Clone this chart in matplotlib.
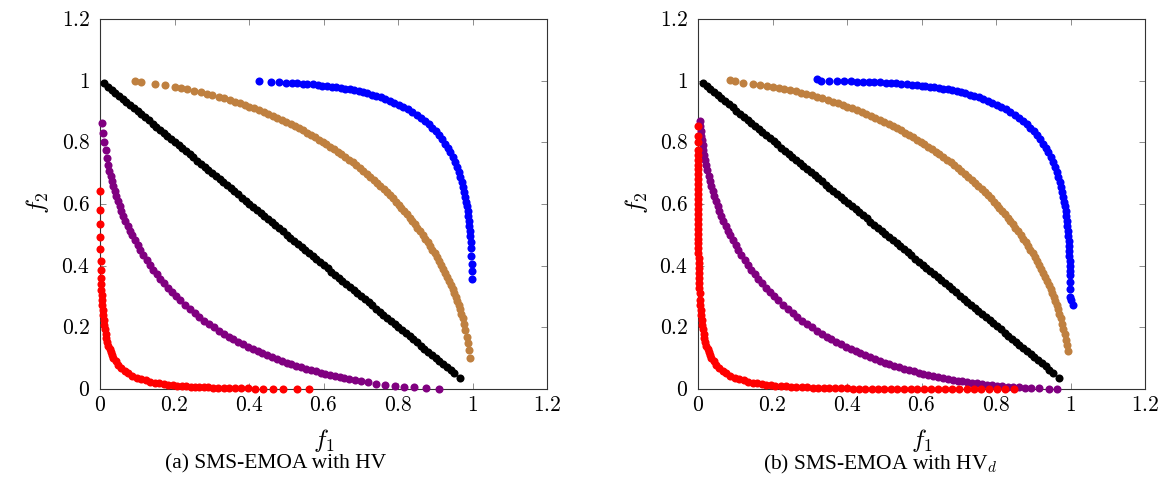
import matplotlib
matplotlib.use("Agg")
import matplotlib.pyplot as plt

plt.rcParams['font.family'] = ['Liberation Serif', 'DejaVu Serif']
plt.rcParams['mathtext.fontset'] = 'cm'

# ---------------- data: (f1, f2) points ----------------
ticks = [0, 0.2, 0.4, 0.6, 0.8, 1.0, 1.2]
tick_labels = ['$0$', '$0.2$', '$0.4$', '$0.6$', '$0.8$', '$1$', '$1.2$']
captions = ['(a) SMS-EMOA with HV', '(b) SMS-EMOA with HV$_d$']

colors = {'blue': '#0000FF', 'brown': '#BF8040', 'black': '#000000',
          'purple': '#800080', 'red': '#FF0000'}

# blue front
blue_mid = [(0.610,0.9825),(0.622,0.9807),(0.634,0.9786),(0.646,0.9764),(0.658,0.9740),
            (0.670,0.9714),(0.682,0.9686),(0.694,0.9655),(0.706,0.9622),(0.718,0.9585),
            (0.730,0.9546),(0.742,0.9503),(0.754,0.9457),(0.766,0.9406),(0.778,0.9351),
            (0.790,0.9291),(0.802,0.9225),(0.814,0.9154),(0.826,0.9075),(0.838,0.8989),
            (0.850,0.8893),(0.861,0.8797),(0.872,0.8691),(0.882,0.8584),(0.892,0.8468),
            (0.901,0.8352),(0.910,0.8223),(0.918,0.8097),(0.926,0.7958),(0.933,0.7823),
            (0.940,0.7674),(0.9465,0.752),(0.9525,0.736),(0.9579,0.720),(0.9627,0.704),
            (0.9671,0.688),(0.9710,0.672),(0.9744,0.656),(0.9775,0.640),(0.9803,0.624),
            (0.9828,0.608),(0.9850,0.592),(0.9870,0.576),(0.9887,0.560),(0.9903,0.544),
            (0.9917,0.528),(0.9929,0.512),(0.9939,0.496)]
blue_a_start = [(0.428,0.998),(0.459,0.996),(0.481,0.995),(0.498,0.994),(0.515,0.993),
                (0.530,0.9915),(0.544,0.9903),(0.557,0.9891),(0.571,0.9876),(0.584,0.9861),
                (0.597,0.9843)]
blue_a_end = [(0.9950,0.478),(0.9960,0.456),(0.9970,0.432),(0.9978,0.406),(0.9984,0.383),
              (0.9988,0.357)]
blue_b_start = [(0.319,1.005),(0.330,1.000),(0.352,0.999),(0.372,0.999),(0.392,0.998),
                (0.410,0.998),(0.426,0.997),(0.442,0.997),(0.458,0.996),(0.473,0.995),
                (0.489,0.995),(0.504,0.9934),(0.518,0.9924),(0.532,0.9913),(0.546,0.9901),
                (0.560,0.9887),(0.574,0.9872),(0.587,0.9856),(0.600,0.9839)]
blue_b_end = [(0.9950,0.480),(0.9957,0.464),(0.9963,0.448),(0.9970,0.432),(0.9976,0.416),
              (0.998,0.400),(0.998,0.384),(0.998,0.370),(0.999,0.347),(0.999,0.323),
              (0.998,0.300),(1.001,0.290),(1.007,0.273)]

# brown front
brown_mid = [(0.349,0.9371),(0.362,0.9322),(0.375,0.9270),(0.388,0.9217),(0.401,0.9161),
             (0.414,0.9103),(0.427,0.9043),(0.440,0.8980),(0.452,0.8920),(0.464,0.8858),
             (0.476,0.8794),(0.488,0.8729),(0.500,0.8660),(0.512,0.8590),(0.523,0.8523),
             (0.534,0.8455),(0.545,0.8385),(0.556,0.8312),(0.567,0.8237),(0.578,0.8160),
             (0.588,0.8089),(0.598,0.8015),(0.608,0.7939),(0.618,0.7862),(0.628,0.7782),
             (0.638,0.7701),(0.648,0.7616),(0.658,0.7530),(0.668,0.7442),(0.678,0.7350),
             (0.688,0.7257),(0.698,0.7161),(0.707,0.707),(0.7161,0.698),(0.7257,0.688),
             (0.7350,0.678),(0.7442,0.668),(0.7530,0.658),(0.7616,0.648),(0.7701,0.638),
             (0.7782,0.628),(0.7862,0.618),(0.7939,0.608),(0.8015,0.598),(0.8089,0.588),
             (0.8160,0.578),(0.8237,0.567),(0.8312,0.556),(0.8385,0.545),(0.8455,0.534),
             (0.8523,0.523),(0.8590,0.512),(0.8660,0.500),(0.8729,0.488),(0.8794,0.476),
             (0.8858,0.464),(0.8920,0.452),(0.8980,0.440),(0.9043,0.427),(0.9103,0.414),
             (0.9161,0.401),(0.9217,0.388),(0.9270,0.375),(0.9322,0.362),(0.9371,0.349),
             (0.9419,0.336),(0.9464,0.323),(0.9507,0.310),(0.9549,0.297),(0.9588,0.284),
             (0.9626,0.271),(0.9661,0.258),(0.9698,0.244),(0.9734,0.229)]
brown_a_start = [(0.093,1.000),(0.109,0.996),(0.147,0.990),(0.175,0.985),(0.200,0.980),
                 (0.217,0.976),(0.234,0.972),(0.252,0.968),(0.270,0.963),(0.286,0.958),
                 (0.302,0.953),(0.319,0.948),(0.334,0.943)]
brown_a_end = [(0.977,0.211),(0.981,0.191),(0.984,0.170),(0.988,0.148),(0.991,0.125),
               (0.994,0.102)]
brown_b_start = [(0.086,1.003),(0.100,0.998),(0.122,0.9935),(0.147,0.990),(0.166,0.986),
                 (0.184,0.983),(0.200,0.980),(0.2165,0.976),(0.232,0.9727),(0.247,0.969),
                 (0.262,0.965),(0.2765,0.961),(0.291,0.9567),(0.305,0.9523),(0.319,0.948),
                 (0.332,0.9433)]
brown_b_end = [(0.9775,0.211),(0.981,0.194),(0.9842,0.177),(0.9871,0.160),(0.9897,0.143),
               (0.9923,0.124)]

# black (linear) front
black_a = [(0.011,0.991),(0.021,0.981),(0.031,0.971),(0.041,0.961),(0.051,0.951),
           (0.061,0.941),(0.071,0.931),(0.081,0.921),(0.091,0.911),(0.101,0.901),
           (0.111,0.891),(0.121,0.881),(0.131,0.871),(0.141,0.861),(0.151,0.851),
           (0.161,0.841),(0.171,0.831),(0.181,0.821),(0.191,0.811),(0.201,0.801),
           (0.211,0.791),(0.221,0.781),(0.231,0.771),(0.241,0.761),(0.251,0.751),
           (0.261,0.741),(0.271,0.731),(0.281,0.721),(0.291,0.711),(0.301,0.701),
           (0.311,0.691),(0.321,0.681),(0.331,0.671),(0.341,0.661),(0.351,0.651),
           (0.361,0.641),(0.371,0.631),(0.381,0.621),(0.391,0.611),(0.401,0.601),
           (0.411,0.591),(0.421,0.581),(0.431,0.571),(0.441,0.561),(0.451,0.551),
           (0.461,0.541),(0.471,0.531),(0.481,0.521),(0.491,0.511),(0.501,0.501),
           (0.511,0.491),(0.521,0.481),(0.531,0.471),(0.541,0.461),(0.551,0.451),
           (0.561,0.441),(0.571,0.431),(0.581,0.421),(0.591,0.411),(0.601,0.401),
           (0.611,0.391),(0.621,0.381),(0.631,0.371),(0.641,0.361),(0.651,0.351),
           (0.661,0.341),(0.671,0.331),(0.681,0.321),(0.691,0.311),(0.701,0.301),
           (0.711,0.291),(0.721,0.281),(0.731,0.271),(0.741,0.261),(0.751,0.251),
           (0.761,0.241),(0.771,0.231),(0.781,0.221),(0.791,0.211),(0.801,0.201),
           (0.811,0.191),(0.821,0.181),(0.831,0.171),(0.841,0.161),(0.851,0.151),
           (0.861,0.141),(0.871,0.131),(0.881,0.121),(0.891,0.111),(0.901,0.101),
           (0.911,0.091),(0.921,0.081),(0.931,0.071),(0.941,0.061),(0.951,0.051),
           (0.966,0.036)]
black_b = [(0.013,0.993),(0.023,0.983),(0.033,0.973),(0.043,0.963),(0.053,0.953),
           (0.063,0.943),(0.073,0.933),(0.083,0.923),(0.093,0.913),(0.103,0.903),
           (0.113,0.893),(0.123,0.883),(0.133,0.873),(0.143,0.863),(0.153,0.853),
           (0.163,0.843),(0.173,0.833),(0.183,0.823),(0.193,0.813),(0.203,0.803),
           (0.213,0.793),(0.223,0.783),(0.233,0.773),(0.243,0.763),(0.253,0.753),
           (0.263,0.743),(0.273,0.733),(0.283,0.723),(0.293,0.713),(0.303,0.703),
           (0.313,0.693),(0.323,0.683),(0.333,0.673),(0.343,0.663),(0.353,0.653),
           (0.363,0.643),(0.373,0.633),(0.383,0.623),(0.393,0.613),(0.403,0.603),
           (0.413,0.593),(0.423,0.583),(0.433,0.573),(0.443,0.563),(0.453,0.553),
           (0.463,0.543),(0.473,0.533),(0.483,0.523),(0.493,0.513),(0.503,0.503),
           (0.513,0.493),(0.523,0.483),(0.533,0.473),(0.543,0.463),(0.553,0.453),
           (0.563,0.443),(0.573,0.433),(0.583,0.423),(0.593,0.413),(0.603,0.403),
           (0.613,0.393),(0.623,0.383),(0.633,0.373),(0.643,0.363),(0.653,0.353),
           (0.663,0.343),(0.673,0.333),(0.683,0.323),(0.693,0.313),(0.703,0.303),
           (0.713,0.293),(0.723,0.283),(0.733,0.273),(0.743,0.263),(0.753,0.253),
           (0.763,0.243),(0.773,0.233),(0.783,0.223),(0.793,0.213),(0.803,0.203),
           (0.813,0.193),(0.823,0.183),(0.833,0.173),(0.843,0.163),(0.853,0.153),
           (0.863,0.143),(0.873,0.133),(0.883,0.123),(0.893,0.113),(0.903,0.103),
           (0.913,0.093),(0.923,0.083),(0.933,0.073),(0.943,0.063),(0.953,0.053),
           (0.969,0.037)]

# purple front
purple_mid = [(0.0287,0.690),(0.0320,0.674),(0.0357,0.658),(0.0395,0.642),(0.0436,0.626),
              (0.0480,0.610),(0.0526,0.594),(0.0575,0.578),(0.0627,0.562),(0.0682,0.546),
              (0.0740,0.530),(0.0801,0.514),(0.0866,0.498),(0.0935,0.482),(0.1007,0.466),
              (0.1084,0.450),(0.1164,0.434),(0.1249,0.418),(0.1339,0.402),(0.1428,0.387),
              (0.1522,0.372),(0.1620,0.357),(0.1716,0.343),(0.1818,0.329),(0.1925,0.315),
              (0.2029,0.302),(0.215,0.2876),(0.228,0.2730),(0.241,0.2592),(0.254,0.2460),
              (0.267,0.2336),(0.280,0.2217),(0.293,0.2104),(0.306,0.1996),(0.319,0.1894),
              (0.332,0.1796),(0.345,0.1702),(0.358,0.1613),(0.371,0.1528),(0.384,0.1446),
              (0.397,0.1368),(0.410,0.1294),(0.423,0.1222),(0.436,0.1154),(0.449,0.1088),
              (0.462,0.1026),(0.475,0.0966),(0.488,0.0909),(0.501,0.0854),(0.514,0.0801),
              (0.527,0.0751),(0.540,0.0703),(0.553,0.0657),(0.566,0.0613),(0.579,0.0572),
              (0.592,0.0532),(0.605,0.0494),(0.618,0.0457),(0.631,0.0423),(0.643,0.0392)]
purple_a_start = [(0.0054,0.862),(0.0081,0.829),(0.0116,0.800),(0.0152,0.775),
                  (0.0188,0.748),(0.0215,0.727),(0.0242,0.707)]
purple_a_end = [(0.654,0.036),(0.669,0.032),(0.685,0.029),(0.702,0.025),(0.720,0.022),
                (0.742,0.017),(0.765,0.014),(0.791,0.011),(0.815,0.008),(0.843,0.005),
                (0.875,0.003),(0.910,0.001)]
purple_b_start = [(0.0045,0.870),(0.0058,0.854),(0.0072,0.838),(0.0087,0.822),
                  (0.0105,0.806),(0.0124,0.790),(0.0145,0.774),(0.0167,0.758),
                  (0.0192,0.742),(0.0219,0.726),(0.0248,0.710)]
purple_b_end = [(0.658,0.0357),(0.671,0.0327),(0.684,0.0299),(0.697,0.0273),(0.710,0.0248),
                (0.723,0.0224),(0.736,0.0202),(0.749,0.0181),(0.762,0.0162),(0.775,0.0143),
                (0.789,0.0125),(0.803,0.0108),(0.817,0.0092),(0.831,0.0078),(0.846,0.0064),
                (0.861,0.0052),(0.877,0.0040),(0.895,0.0029),(0.915,0.0019),(0.941,0.0009),
                (0.965,0.0003)]

# red front
red_mid = [(0.0051,0.289),(0.0059,0.273),(0.0069,0.257),(0.0080,0.241),(0.0094,0.225),
           (0.0110,0.209),(0.0128,0.194),(0.0149,0.179),(0.0173,0.165),(0.0199,0.152),
           (0.0227,0.140),(0.0258,0.129),(0.0290,0.119),(0.0324,0.110),(0.0362,0.101),
           (0.042,0.0897),(0.049,0.0786),(0.057,0.0684),(0.066,0.0591),(0.076,0.0509),
           (0.087,0.0436),(0.099,0.0372),(0.111,0.0320),(0.123,0.0277),(0.135,0.0241),
           (0.147,0.0210),(0.159,0.0184),(0.171,0.0162)]
red_a_start = [(0.0001,0.641),(0.0003,0.581),(0.0004,0.534),(0.0007,0.494),(0.0010,0.454),
               (0.0015,0.416),(0.0020,0.386),(0.0026,0.361),(0.0031,0.341),(0.0037,0.321),
               (0.0044,0.305)]
red_a_end = [(0.183,0.0143),(0.195,0.0127),(0.207,0.0112),(0.219,0.0100),(0.231,0.0089),
             (0.243,0.0079),(0.255,0.0070),(0.267,0.0063),(0.279,0.0056),(0.291,0.0050),
             (0.304,0.0044),(0.318,0.0038),(0.332,0.0034),(0.347,0.0029),(0.362,0.0025),
             (0.379,0.0022),(0.396,0.0018),(0.416,0.0015),(0.438,0.0012),(0.464,0.0009),
             (0.492,0.0007),(0.530,0.0005),(0.562,0.0003)]
red_b_start = [(0.0000,0.853),(0.0000,0.822),(0.0000,0.802),(0.0000,0.776),(0.00002,0.760),
               (0.00003,0.744),(0.00003,0.728),(0.00004,0.712),(0.00006,0.696),(0.00007,0.680),
               (0.00009,0.664),(0.00011,0.648),(0.00014,0.632),(0.00018,0.616),(0.00022,0.600),
               (0.00027,0.584),(0.00033,0.568),(0.0004,0.552),(0.00048,0.536),(0.00058,0.520),
               (0.00069,0.504),(0.00082,0.488),(0.00097,0.472),(0.0011,0.456),(0.0013,0.440),
               (0.0016,0.424),(0.0018,0.408),(0.0021,0.392),(0.0025,0.376),(0.0029,0.360),
               (0.0033,0.344),(0.0038,0.328),(0.0042,0.312)]
red_b_end = [(0.183,0.0143),(0.195,0.0127),(0.208,0.0111),(0.222,0.0097),(0.235,0.0086),
             (0.250,0.0074),(0.264,0.0065),(0.278,0.0057),(0.293,0.0049),(0.308,0.0042),
             (0.323,0.0036),(0.338,0.0031),(0.353,0.0027),(0.369,0.0023),(0.385,0.0020),
             (0.401,0.0017),(0.417,0.0014),(0.433,0.0012),(0.449,0.0010),(0.466,0.0009),
             (0.483,0.0007),(0.500,0.0006),(0.517,0.0005),(0.535,0.0004),(0.553,0.0004),
             (0.571,0.0003),(0.589,0.0002),(0.608,0.0002),(0.626,0.0002),(0.644,0.0001),
             (0.663,0.0001),(0.682,0.0001),(0.702,0.0001),(0.721,0.0),(0.741,0.0),
             (0.761,0.0),(0.781,0.0),(0.803,0.0),(0.823,0.0),(0.848,0.0)]

panels = [
    [('blue', blue_a_start + blue_mid + blue_a_end),
     ('brown', brown_a_start + brown_mid + brown_a_end),
     ('black', black_a),
     ('purple', purple_a_start + purple_mid + purple_a_end),
     ('red', red_a_start + red_mid + red_a_end)],
    [('blue', blue_b_start + blue_mid + blue_b_end),
     ('brown', brown_b_start + brown_mid + brown_b_end),
     ('black', black_b),
     ('purple', purple_b_start + purple_mid + purple_b_end),
     ('red', red_b_start + red_mid + red_b_end)],
]

# ---------------- figure ----------------
W, H = 1167, 493
fig = plt.figure(figsize=(W / 100, H / 100), dpi=100)
lefts = [100, 698]
ax_w, ax_top, ax_bot = 447, 19, 389
caption_x = [276, 880]

for i, (left, series) in enumerate(zip(lefts, panels)):
    ax = fig.add_axes([left / W, 1 - ax_bot / H, ax_w / W, (ax_bot - ax_top) / H])
    for name, pts in series:
        xs = [p[0] for p in pts]
        ys = [p[1] for p in pts]
        ax.plot(xs, ys, ls='none', marker='o', ms=5.8, mew=0,
                color=colors[name], clip_on=False, zorder=3)
    ax.set_xlim(0, 1.2)
    ax.set_ylim(0, 1.2)
    ax.set_xticks(ticks)
    ax.set_xticklabels(tick_labels)
    ax.set_yticks(ticks)
    ax.set_yticklabels(tick_labels)
    ax.tick_params(direction='in', top=True, right=True, length=4, width=0.7,
                   color='#8c8c8c', labelsize=15.5, pad=6)
    ax.tick_params(axis='y', pad=7)
    for sp in ax.spines.values():
        sp.set_linewidth(0.8)
        sp.set_color('#333333')
    ax.text(0.5, (ax_bot - 440) / (ax_bot - ax_top), '$f_1$', transform=ax.transAxes,
            ha='center', va='center', fontsize=18)
    ax.text(-62 / ax_w, (ax_bot - 203) / (ax_bot - ax_top), '$f_2$', transform=ax.transAxes,
            ha='center', va='center', fontsize=18, rotation=90)
    fig.text(caption_x[i] / W, 1 - 464 / H, captions[i], ha='center', va='center',
             fontsize=15.5)

fig.savefig('out.png', dpi=100)
